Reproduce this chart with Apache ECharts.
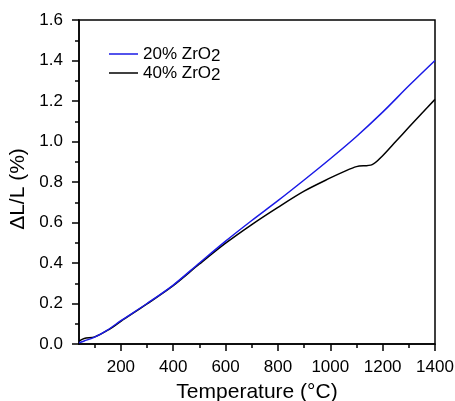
<!DOCTYPE html>
<html>
<head>
<meta charset="utf-8">
<script src="https://cdn.jsdelivr.net/npm/echarts@6/dist/echarts.min.js"></script>
<style>html,body{margin:0;padding:0;background:#fff}#c{width:455px;height:401px}</style>
</head>
<body>
<div id="c"></div>
<script>
var temps20 = [40, 60, 100, 150, 200, 300, 400, 500, 600, 700, 800, 900, 1000, 1100, 1200, 1300, 1400];
var vals20  = [0.006, 0.015, 0.034, 0.07, 0.115, 0.2, 0.291, 0.4, 0.508, 0.61, 0.708, 0.81, 0.915, 1.025, 1.145, 1.275, 1.40];
var temps40 = [40, 60, 100, 150, 200, 300, 400, 500, 600, 700, 800, 900, 1000, 1050, 1100, 1160, 1200, 1250, 1300, 1350, 1400];
var vals40  = [0.014, 0.027, 0.035, 0.068, 0.112, 0.198, 0.288, 0.395, 0.498, 0.59, 0.675, 0.755, 0.82, 0.85, 0.876, 0.886, 0.93, 1.0, 1.07, 1.14, 1.208];
var xMajorTicks = [200, 400, 600, 800, 1000, 1200, 1400];
var xMinorTicks = [100, 300, 500, 700, 900, 1100, 1300];
var seriesNames = ['20% ZrO2', '40% ZrO2'];

function pairs(xs, ys) { return xs.map(function (x, i) { return [x, ys[i]]; }); }

var font = 'Liberation Sans, Arial, sans-serif';
var chart = echarts.init(document.getElementById('c'));
chart.setOption({
  animation: false,
  grid: { left: 79, right: 20, top: 20, bottom: 57, containLabel: false, outerBoundsMode: 'none', show: true, borderColor: '#000', borderWidth: 1.5, backgroundColor: 'transparent' },
  legend: {
    left: 104, top: 38, orient: 'vertical', itemGap: -3, itemWidth: 29, itemHeight: 1.5, icon: 'rect',
    data: seriesNames,
    formatter: function (n) { return '{a|' + n.slice(0, -1) + '}{s|2}'; },
    textStyle: {
      fontFamily: font, color: '#000',
      rich: {
        a: { fontSize: 17, fontFamily: font, color: '#000', lineHeight: 14 },
        s: { fontSize: 17, fontFamily: font, color: '#000', lineHeight: 14, padding: [5, 0, 0, 0] }
      }
    }
  },
  xAxis: [{
    type: 'value', min: 40, max: 1400,
    axisLine: { show: true, onZero: false, lineStyle: { color: '#000', width: 1.5 } },
    axisTick: { show: true, length: 7, customValues: xMajorTicks, lineStyle: { color: '#000', width: 1.5 } },
    axisLabel: { customValues: xMajorTicks, margin: 15, fontSize: 17, fontFamily: font, color: '#000', formatter: function (v) { return String(v); } },
    splitLine: { show: false },
    name: 'Temperature (°C)', nameLocation: 'middle', nameGap: 38,
    nameTextStyle: { fontSize: 21, fontFamily: font, color: '#000' }
  }, {
    type: 'value', min: 40, max: 1400, position: 'bottom',
    axisLine: { show: false },
    axisTick: { show: true, length: 4, customValues: xMinorTicks, lineStyle: { color: '#000', width: 1.5 } },
    axisLabel: { show: false },
    splitLine: { show: false }
  }],
  yAxis: {
    type: 'value', min: 0, max: 1.6, interval: 0.2,
    axisLine: { show: true, lineStyle: { color: '#000', width: 1.5 } },
    axisTick: { show: true, length: 7, lineStyle: { color: '#000', width: 1.5 } },
    minorTick: { show: true, splitNumber: 2, length: 4, lineStyle: { color: '#000', width: 1.5 } },
    axisLabel: { margin: 16, fontSize: 17, fontFamily: font, color: '#000', formatter: function (v) { return v.toFixed(1); } },
    splitLine: { show: false },
    name: 'ΔL/L (%)', nameLocation: 'middle', nameGap: 44,
    nameTextStyle: { fontSize: 21, fontFamily: font, color: '#000', padding: [0, 14, 0, 0] }
  },
  series: [{
    name: seriesNames[0], type: 'line', symbol: 'none', smooth: 0.3,
    data: pairs(temps20, vals20), lineStyle: { color: '#1a1ae6', width: 1.5 }, itemStyle: { color: '#1a1ae6' }, z: 3
  }, {
    name: seriesNames[1], type: 'line', symbol: 'none', smooth: 0.3,
    data: pairs(temps40, vals40), lineStyle: { color: '#000', width: 1.5 }, itemStyle: { color: '#000' }, z: 2
  }]
});
</script>
</body>
</html>
